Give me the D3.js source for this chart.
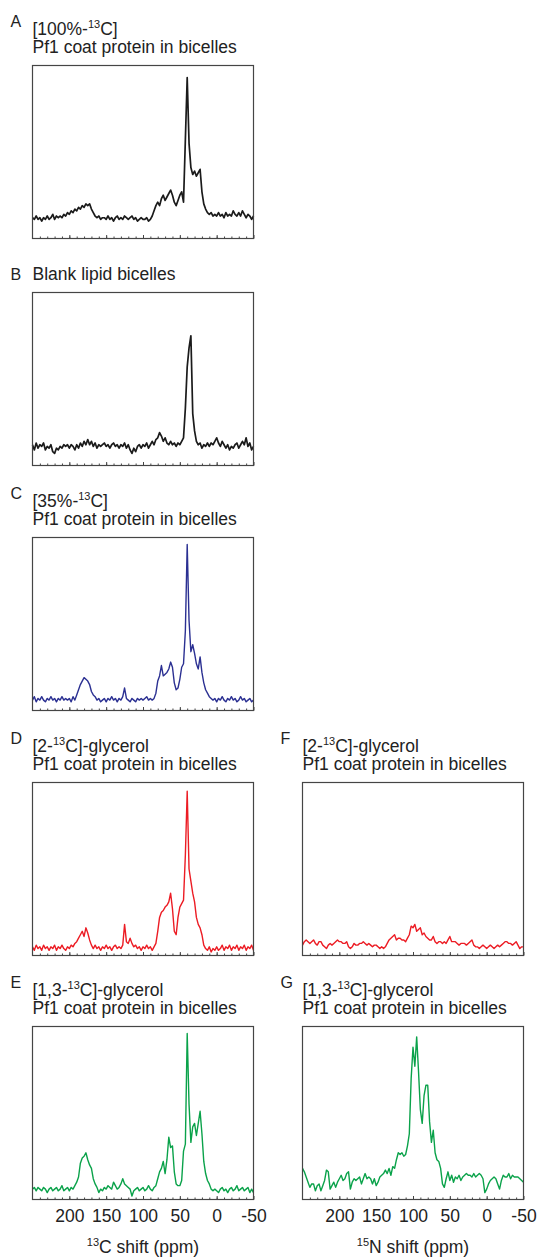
<!DOCTYPE html>
<html>
<head>
<meta charset="utf-8">
<script src="https://cdn.jsdelivr.net/npm/d3@7"></script>
<style>
  body { margin: 0; background: #fff; }
  svg { display: block; font-family: "Liberation Sans", Arial, Helvetica, sans-serif; }
</style>
</head>
<body>
<div id="chart"></div>
<script>
// shared chemical-shift grid (ppm), 2.5 ppm steps from 250 down to -50
const ppm = d3.range(250, -50.01, -2.5);
const tickLabels = [200, 150, 100, 50, 0, -50];

// intensities as % of panel height, one row per 25 ppm (250 -> -50)
const specA = [
  12, 11, 13, 11, 12, 10, 12, 11, 13, 11,
  12, 14, 11, 13, 12, 13, 12, 14, 13, 15,
  14, 16, 15, 17, 16, 18, 17, 19, 18, 20,
  19, 20, 17, 15, 13, 12, 13, 11, 12, 12,
  11, 13, 11, 12, 10, 12, 13, 11, 12, 11,
  13, 12, 11, 12, 13, 11, 12, 10, 11, 12,
  11, 11, 12, 10, 11, 13, 16, 19, 21, 19,
  23, 25, 22, 24, 26, 28, 25, 21, 19, 22,
  25, 27, 21, 57, 93, 55, 41, 37, 39, 36,
  38, 40, 27, 20, 17, 15, 14, 15, 13, 14,
  13, 15, 13, 14, 12, 15, 13, 14, 13, 16,
  14, 13, 15, 13, 16, 14, 12, 14, 13, 11,
  13
];
const specB = [
  12, 9, 13, 10, 12, 11, 13, 9, 11, 10,
  12, 8, 7, 10, 9, 11, 10, 12, 11, 12,
  10, 12, 11, 9, 12, 10, 13, 11, 14, 12,
  15, 12, 14, 11, 13, 10, 12, 11, 12, 13,
  11, 12, 10, 12, 13, 11, 12, 10, 12, 11,
  13, 10, 12, 9, 7, 10, 8, 11, 12, 10,
  12, 11, 13, 10, 12, 14, 12, 15, 16, 19,
  17, 14, 16, 13, 12, 14, 12, 13, 11, 13,
  12, 14, 16, 33, 57, 68, 75, 30, 20, 14,
  12, 13, 10, 12, 11, 13, 11, 13, 12, 14,
  16, 13, 11, 14, 12, 10, 12, 9, 11, 10,
  12, 13, 10, 12, 14, 12, 16, 11, 13, 9,
  11
];
const specC = [
  6, 8, 5, 7, 6, 8, 6, 5, 7, 6,
  8, 6, 7, 5, 7, 6, 8, 6, 7, 6,
  7, 5, 8, 6, 9, 12, 15, 17, 19, 18,
  17, 15, 11, 9, 8, 6, 7, 5, 6, 7,
  5, 7, 6, 8, 6, 7, 5, 7, 6, 8,
  13, 7, 6, 5, 7, 6, 5, 7, 6, 7,
  6, 7, 8, 6, 7, 6, 7, 10, 17, 20,
  26, 20, 21, 22, 24, 28, 25, 16, 12, 13,
  18, 25, 27, 46, 96, 52, 34, 38, 33, 27,
  24, 31, 22, 16, 12, 10, 8, 7, 6, 7,
  5, 7, 6, 8, 6, 5, 7, 6, 8, 6,
  7, 5, 6, 8, 6, 7, 5, 6, 7, 5,
  6
];
const specD = [
  5, 3, 6, 4, 5, 3, 6, 4, 5, 3,
  5, 4, 6, 3, 5, 4, 6, 4, 3, 5,
  4, 6, 5, 7, 8, 10, 12, 14, 11, 16,
  13, 9, 6, 4, 6, 4, 5, 3, 5, 4,
  6, 4, 5, 3, 5, 6, 4, 5, 4, 6,
  18, 8, 7, 10, 7, 5, 6, 4, 5, 3,
  5, 4, 6, 4, 5, 3, 5, 7, 14, 22,
  25, 26, 28, 29, 31, 36, 27, 14, 12, 22,
  28, 30, 32, 58, 95, 50, 43, 36, 31, 22,
  18, 16, 12, 6, 4, 3, 5, 2, 4, 3,
  5, 3, 4, 6, 3, 5, 4, 6, 3, 5,
  4, 6, 3, 5, 4, 6, 3, 5, 4, 6,
  3
];
const specE = [
  6, 7, 5, 7, 6, 5, 7, 6, 4, 6,
  7, 5, 6, 7, 5, 6, 8, 5, 6, 7,
  5, 7, 6, 8, 10, 13, 21, 24, 25, 27,
  23, 20, 18, 12, 9, 7, 4, 6, 5, 7,
  6, 8, 7, 6, 10, 8, 6, 7, 9, 12,
  9, 8, 7, 6, 2, 5, 6, 7, 5, 6,
  7, 5, 6, 8, 6, 5, 7, 8, 12, 16,
  18, 22, 15, 23, 36, 30, 31, 16, 9, 8,
  8, 11, 28, 32, 96, 55, 33, 42, 44, 37,
  44, 51, 38, 22, 15, 11, 9, 6, 5, 6,
  5, 4, 6, 7, 5, 6, 4, 6, 7, 5,
  6, 8, 5, 6, 7, 5, 6, 7, 4, 6,
  4
];
const specF = [
  6, 8, 9, 8, 7, 8, 9, 7, 6, 8,
  8, 6, 5, 4, 6, 7, 6, 7, 8, 9,
  8, 8, 7, 7, 8, 5, 4, 5, 7, 6,
  6, 7, 7, 8, 7, 6, 7, 6, 5, 6,
  6, 5, 4, 5, 4, 5, 7, 9, 10, 11,
  12, 9, 10, 10, 9, 9, 8, 10, 12, 17,
  16, 18, 14, 15, 16, 12, 13, 11, 10, 9,
  9, 11, 8, 7, 8, 8, 7, 8, 7, 9,
  11, 8, 8, 8, 7, 6, 7, 7, 7, 6,
  7, 8, 9, 6, 5, 5, 4, 5, 6, 5,
  4, 5, 6, 5, 4, 5, 6, 5, 6, 7,
  8, 8, 7, 7, 6, 7, 8, 6, 4, 5,
  5
];
const specG = [
  18, 16, 13, 10, 7, 9, 9, 5, 8, 9,
  5, 8, 11, 17, 16, 6, 8, 10, 7, 10,
  12, 14, 11, 12, 15, 16, 6, 10, 12, 11,
  12, 13, 9, 12, 15, 12, 13, 12, 9, 12,
  8, 10, 13, 14, 15, 17, 15, 18, 14, 19,
  18, 23, 27, 26, 27, 25, 26, 31, 38, 70,
  88, 77, 94, 74, 52, 44, 60, 66, 66, 45,
  33, 40, 27, 23, 22, 18, 9, 7, 12, 16,
  11, 14, 10, 13, 12, 14, 11, 13, 14, 15,
  14, 14, 13, 15, 13, 14, 15, 14, 12, 4,
  6, 9, 11, 12, 13, 12, 9, 6, 11, 14,
  13, 13, 15, 12, 14, 13, 13, 13, 12, 11,
  10
];

const panelLetters = ["A", "B", "C", "D", "E", "F", "G"];
// "^" marks superscript
const titleLine1 = ["[100%-^13^C]", "", "[35%-^13^C]", "[2-^13^C]-glycerol", "[1,3-^13^C]-glycerol", "[2-^13^C]-glycerol", "[1,3-^13^C]-glycerol"];
const titleLine2 = ["Pf1 coat protein in bicelles", "Blank lipid bicelles", "Pf1 coat protein in bicelles", "Pf1 coat protein in bicelles", "Pf1 coat protein in bicelles", "Pf1 coat protein in bicelles", "Pf1 coat protein in bicelles"];
const axisTitles = ["", "", "", "", "^13^C shift (ppm)", "", "^15^N shift (ppm)"];
const spectra = [specA, specB, specC, specD, specE, specF, specG];

const colors = ["#1b1b1b", "#1b1b1b", "#2b3092", "#ec1c24", "#0aa24a", "#ec1c24", "#0aa24a"];
const strokeWidths = [1.7, 1.7, 1.4, 1.4, 1.4, 1.4, 1.4];
const panelX = [32.5, 32.5, 32.5, 32.5, 32.5, 302.5, 302.5];
const panelY = [65.5, 292.5, 537.5, 782.5, 1026.5, 782.5, 1026.5];
const W = 221, H = 173;
const fontSize = 17.5;

const svg = d3.select("#chart").append("svg")
  .attr("width", 537)
  .attr("height", 1259);

svg.append("rect").attr("width", 537).attr("height", 1259).attr("fill", "#fff");

function richText(sel, str) {
  str.split("^").forEach((part, i) => {
    if (!part) return;
    if (i % 2 === 1) {
      sel.append("tspan").attr("font-size", 11).attr("dy", -6.5).text(part);
    } else {
      sel.append("tspan").attr("dy", i > 0 ? 6.5 : 0).text(part);
    }
  });
}

const x = d3.scaleLinear().domain([250, -50]).range([0, W]);
const y = d3.scaleLinear().domain([0, 100]).range([H, 0]);
const line = d3.line()
  .x((d, i) => x(ppm[i]))
  .y((d) => y(d));

spectra.forEach((values, k) => {
  const g = svg.append("g").attr("transform", `translate(${panelX[k]},${panelY[k]})`);

  // spectrum trace
  g.append("path")
    .datum(values)
    .attr("d", line)
    .attr("fill", "none")
    .attr("stroke", colors[k])
    .attr("stroke-width", strokeWidths[k])
    .attr("stroke-linejoin", "round");

  // minor ticks every 10 ppm, pointing inward
  g.append("g")
    .attr("transform", `translate(0,${H})`)
    .call(d3.axisBottom(x).tickValues(d3.range(240, -50, -10)).tickSize(-2).tickFormat(""))
    .call((a) => a.select(".domain").remove())
    .call((a) => a.selectAll("line").attr("stroke", "#444"));

  // major ticks + labels
  const showLabels = axisTitles[k] !== "";
  g.append("g")
    .attr("transform", `translate(0,${H})`)
    .call(d3.axisBottom(x).tickValues(tickLabels).tickSize(-3.5).tickPadding(10)
      .tickFormat((d) => (showLabels ? String(d) : "")))
    .call((a) => a.select(".domain").remove())
    .call((a) => a.selectAll("line").attr("stroke", "#444"))
    .call((a) => a.selectAll("text")
      .attr("fill", "#222")
      .attr("font-size", fontSize)
      .attr("font-family", "Liberation Sans, Arial, sans-serif"));

  // frame
  g.append("rect")
    .attr("width", W)
    .attr("height", H)
    .attr("fill", "none")
    .attr("stroke", "#454545")
    .attr("stroke-width", 1.2);

  // titles
  const twoLines = titleLine1[k] !== "";
  g.append("text")
    .attr("x", -22)
    .attr("y", twoLines ? -39 : -12.5)
    .attr("font-size", 16)
    .attr("fill", "#222")
    .text(panelLetters[k]);

  if (twoLines) {
    richText(g.append("text")
      .attr("x", 0).attr("y", -31)
      .attr("font-size", fontSize)
      .attr("fill", "#222"), titleLine1[k]);
  }
  g.append("text")
    .attr("x", 0).attr("y", -12.5)
    .attr("font-size", fontSize)
    .attr("fill", "#222")
    .text(titleLine2[k]);

  if (showLabels) {
    richText(g.append("text")
      .attr("x", W / 2).attr("y", H + 53)
      .attr("text-anchor", "middle")
      .attr("font-size", fontSize)
      .attr("fill", "#222"), axisTitles[k]);
  }
});
</script>
</body>
</html>
